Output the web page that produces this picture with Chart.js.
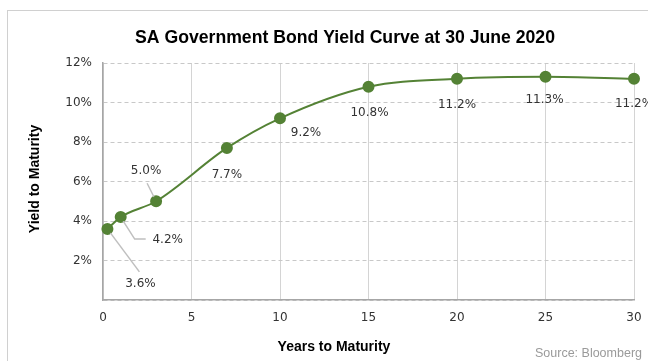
<!DOCTYPE html>
<html>
<head>
<meta charset="utf-8">
<script src="https://cdn.jsdelivr.net/npm/chart.js@4"></script>
<style>
  html, body { margin: 0; padding: 0; background: #fff; }
  #wrap { width: 648px; height: 361px; position: relative; }
</style>
</head>
<body>
<div id="wrap"><canvas id="chart" width="648" height="361"></canvas></div>
<script>
// maturities (years) and yields (%)
const maturities = [0.25, 1, 3, 7, 10, 15, 20, 25, 30];
const yields = [3.6, 4.2, 5.0, 7.7, 9.2, 10.8, 11.2, 11.3, 11.2];
const pointLabels = ['3.6%', '4.2%', '5.0%', '7.7%', '9.2%', '10.8%', '11.2%', '11.3%', '11.2%'];
const xTicks = [0, 5, 10, 15, 20, 25, 30];
const yTicks = [0, 2, 4, 6, 8, 10, 12];

const green = '#548235';

// label offsets from the point, with optional leader line
const labelLayout = [
  { dx: 33, dy: 55, lead: [[0, 0], [32, 43]] },
  { dx: 47, dy: 23, lead: [[0, 0], [14, 22], [25, 22]] },
  { dx: -10, dy: -30, lead: [[0, 0], [-9, -18]] },
  { dx: 0, dy: 27 },
  { dx: 26, dy: 15 },
  { dx: 1, dy: 26 },
  { dx: 0, dy: 26 },
  { dx: -1, dy: 23 },
  { dx: 0, dy: 25 }
];

const decor = {
  id: 'decor',
  beforeDraw(chart) {
    const ctx = chart.ctx;
    ctx.save();
    ctx.fillStyle = '#fff';
    ctx.fillRect(0, 0, chart.width, chart.height);
    ctx.strokeStyle = '#d0d0d0';
    ctx.lineWidth = 1;
    ctx.strokeRect(7.5, 10.5, 700, 400);
    ctx.restore();
  },
  afterDatasetsDraw(chart) {
    const ctx = chart.ctx;
    const meta = chart.getDatasetMeta(0);
    ctx.save();
    // leader lines
    ctx.strokeStyle = '#bfbfbf';
    ctx.lineWidth = 1.5;
    meta.data.forEach((pt, i) => {
      const l = labelLayout[i];
      if (!l.lead) return;
      ctx.beginPath();
      l.lead.forEach((p, j) => {
        const x = pt.x + p[0], y = pt.y + p[1];
        if (j === 0) ctx.moveTo(x, y); else ctx.lineTo(x, y);
      });
      ctx.stroke();
    });
    // redraw points over leader lines
    ctx.fillStyle = green;
    meta.data.forEach(pt => {
      ctx.beginPath();
      ctx.arc(pt.x, pt.y, 5, 0, Math.PI * 2);
      ctx.fill();
    });
    // data labels
    ctx.fillStyle = '#333';
    ctx.font = '12px "DejaVu Sans"';
    ctx.textAlign = 'center';
    ctx.textBaseline = 'middle';
    meta.data.forEach((pt, i) => {
      const l = labelLayout[i];
      ctx.fillText(pointLabels[i], pt.x + l.dx, pt.y + l.dy);
    });

    // title, condensed bold
    const title = 'SA Government Bond Yield Curve at 30 June 2020';
    ctx.fillStyle = '#000';
    ctx.font = 'bold 19px "Liberation Sans"';
    const tw = ctx.measureText(title).width;
    ctx.save();
    ctx.translate(345, 38);
    ctx.scale(420 / tw, 1);
    ctx.fillText(title, 0, 0);
    ctx.restore();
    // axis titles
    ctx.font = 'bold 14px "Liberation Sans"';
    ctx.fillText('Years to Maturity', 334, 347);
    ctx.save();
    ctx.translate(35, 179);
    ctx.rotate(-Math.PI / 2);
    ctx.fillText('Yield to Maturity', 0, 0);
    ctx.restore();
    // source
    ctx.fillStyle = '#9a9a9a';
    ctx.font = '12.5px "Liberation Sans"';
    ctx.textAlign = 'right';
    ctx.fillText('Source: Bloomberg', 642, 354);
    ctx.restore();
  }
};

new Chart(document.getElementById('chart'), {
  type: 'scatter',
  data: {
    datasets: [{
      data: maturities.map((m, i) => ({ x: m, y: yields[i] })),
      showLine: true,
      borderColor: green,
      borderWidth: 2,
      backgroundColor: green,
      pointRadius: 5,
      pointHoverRadius: 5,
      cubicInterpolationMode: 'monotone',
      clip: false
    }]
  },
  plugins: [decor],
  options: {
    responsive: false,
    animation: false,
    events: [],
    layout: { padding: { top: 63, right: 14, left: 0, bottom: 0 } },
    plugins: { legend: { display: false }, tooltip: { enabled: false } },
    scales: {
      x: {
        type: 'linear',
        min: 0,
        max: 30,
        afterBuildTicks: s => { s.ticks = xTicks.map(v => ({ value: v })); },
        afterFit: s => { s.height = 61; s.paddingLeft = 0; s.paddingRight = 0; },
        ticks: { color: '#333', font: { family: 'DejaVu Sans', size: 12 }, padding: 11, maxRotation: 0 },
        grid: { color: '#d4d4d4', lineWidth: 1, drawTicks: false },
        border: { color: '#a6a6a6', width: 1.5 }
      },
      y: {
        min: 0,
        max: 12,
        afterBuildTicks: s => { s.ticks = yTicks.map(v => ({ value: v })); },
        afterFit: s => { s.width = 103; s.paddingTop = 0; s.paddingBottom = 0; },
        ticks: {
          color: '#333',
          font: { family: 'DejaVu Sans', size: 12 },
          padding: 11,
          callback: v => v === 0 ? '' : v + '%'
        },
        grid: { color: '#c8c8c8', lineWidth: 1, drawTicks: false },
        border: { color: '#a6a6a6', width: 1.5, dash: [4, 3] }
      }
    }
  }
});
</script>
</body>
</html>
